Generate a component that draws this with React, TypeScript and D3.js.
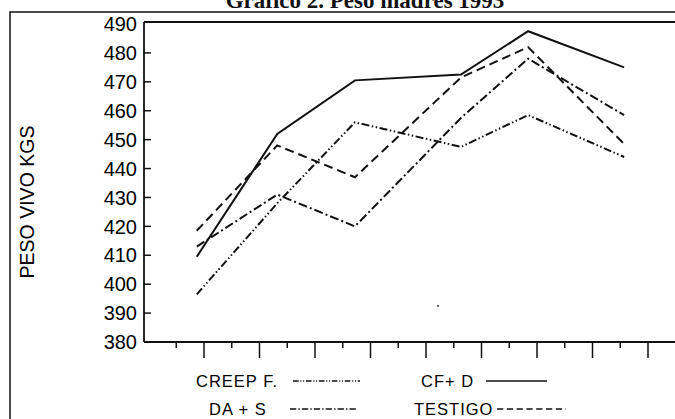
import * as d3 from 'd3';

// x positions of the six weighings (in axis tick units; the axis carries no labels)
const weighings = [0.87, 2.32, 3.72, 5.63, 6.84, 8.57];

const creepF = [396.5, 428, 456, 447.5, 458.5, 444];
const daS = [413, 431, 420, 457.5, 478, 458.5];
const cfD = [409.5, 452, 470.5, 472.5, 487.5, 475];
const testigo = [418.5, 448, 437, 471.5, 482, 448.5];

const yTicks = [380, 390, 400, 410, 420, 430, 440, 450, 460, 470, 480, 490];
const xMajorTicks = [1, 2, 3, 4, 5, 6, 7, 8, 9];
const xMinorTicks = [0.5, 1.5, 2.5, 3.5, 4.5, 5.5, 6.5, 7.5, 8.5, 9.5];

const title = 'Gráfico 2. Peso madres 1993';
const yLabel = 'PESO VIVO KGS';

const series = [
    { name: 'CREEP F.', values: creepF, dash: '8,2.5,1.5,2.5,1.5,2.5' },
    { name: 'CF+ D', values: cfD, dash: '' },
    { name: 'DA + S', values: daS, dash: '9,3,2,3' },
    { name: 'TESTIGO', values: testigo, dash: '9,5' },
];

const W = 675;
const H = 419;

export default function App() {
    const left = 144;
    const top = 23;
    const bottom = 342;

    const x = d3.scaleLinear().domain([0, 1]).range([148.5, 204]);
    const y = d3.scaleLinear().domain([380, 490]).range([bottom, top + 1]);

    const line = d3.line<number>()
        .x((_, i) => x(weighings[i]))
        .y(d => y(d));

    // legend layout: two columns, two rows
    const legendPos = [
        { tx: 196, ty: 387, lx1: 293, lx2: 360 },
        { tx: 421, ty: 387, lx1: 486, lx2: 547 },
        { tx: 209, ty: 415, lx1: 290, lx2: 357 },
        { tx: 414, ty: 415, lx1: 497, lx2: 566 },
    ];

    return (
        <svg width={W} height={H} style={{ position: 'absolute', left: 0, top: 0, background: '#fff' }}>
            {/* outer frame */}
            <rect x={10} y={12} width={W + 20} height={H + 20} fill="none" stroke="#111" strokeWidth={1.5} />

            <text x={365} y={8} textAnchor="middle" fontFamily="'Liberation Serif', 'Times New Roman', serif"
                fontWeight="bold" fontSize={23} fill="#111">{title}</text>

            {/* plot frame */}
            <line x1={left} x2={W} y1={top - 1} y2={top - 1} stroke="#111" strokeWidth={2} />
            <line x1={left} x2={left} y1={top - 1} y2={bottom} stroke="#111" strokeWidth={1.8} />
            <line x1={left} x2={W} y1={bottom} y2={bottom} stroke="#111" strokeWidth={2} />

            {/* y ticks */}
            {yTicks.map(t => (
                <g key={t}>
                    {t !== 380 && t !== 490 && (
                        <line x1={left} x2={left + 7} y1={y(t)} y2={y(t)} stroke="#111" strokeWidth={1.5} />
                    )}
                    <text x={137} y={y(t)} dy="0.36em" textAnchor="end" fontFamily="'Liberation Sans', Arial, sans-serif"
                        fontSize={20} fill="#000">{t}</text>
                </g>
            ))}

            {/* x ticks */}
            {xMajorTicks.map(t => (
                <line key={'M' + t} x1={x(t)} x2={x(t)} y1={bottom} y2={bottom + 16} stroke="#111" strokeWidth={1.5} />
            ))}
            {xMinorTicks.map(t => (
                <line key={'m' + t} x1={x(t)} x2={x(t)} y1={bottom} y2={bottom + 6} stroke="#111" strokeWidth={1.5} />
            ))}

            <text transform={`translate(34,202) rotate(-90)`} textAnchor="middle"
                fontFamily="'Liberation Sans', Arial, sans-serif" fontSize={19.5} fill="#000">{yLabel}</text>

            {/* series */}
            {series.map(s => (
                <path key={s.name} d={line(s.values) || ''} fill="none" stroke="#111" strokeWidth={2}
                    strokeDasharray={s.dash || undefined} />
            ))}

            {/* scan speck */}
            <circle cx={438} cy={306} r={1} fill="#333" />

            {/* legend */}
            {series.map((s, i) => {
                const p = legendPos[i];
                return (
                    <g key={'lg' + s.name}>
                        <text x={p.tx} y={p.ty} fontFamily="'Liberation Sans', Arial, sans-serif" fontSize={16.5}
                            letterSpacing={1} fill="#000">{s.name}</text>
                        <line x1={p.lx1} x2={p.lx2} y1={p.ty - 6} y2={p.ty - 6} stroke="#111" strokeWidth={1.7}
                            strokeDasharray={s.dash ? s.dash.split(',').map(v => +v * 0.7).join(',') : undefined} />
                    </g>
                );
            })}
        </svg>
    );
}
